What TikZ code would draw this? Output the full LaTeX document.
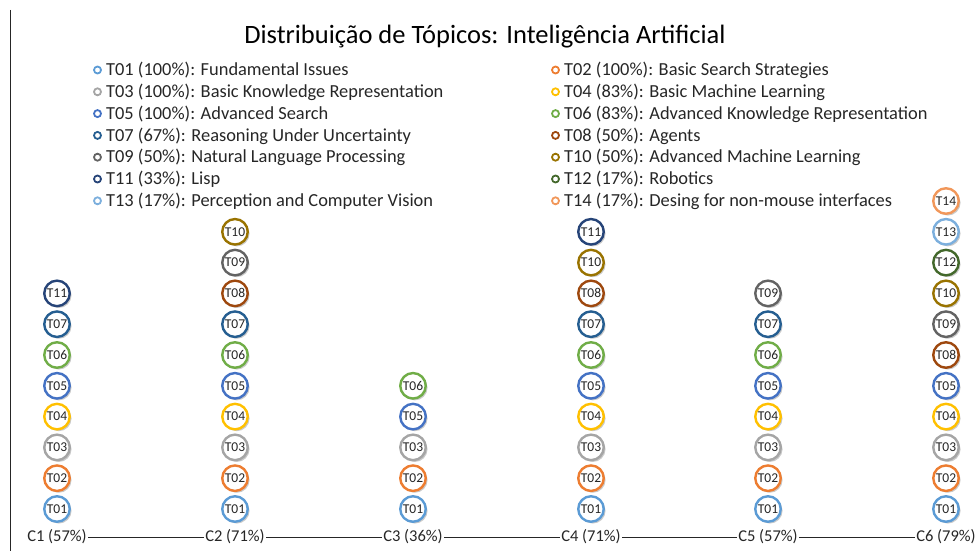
\documentclass[tikz,border=0pt]{standalone}
\usepackage{fontspec}
\setmainfont{Carlito}
\usetikzlibrary{shadows}
\definecolor{t01}{HTML}{5B9BD5}
\definecolor{t02}{HTML}{ED7D31}
\definecolor{t03}{HTML}{A5A5A5}
\definecolor{t04}{HTML}{FFC000}
\definecolor{t05}{HTML}{4472C4}
\definecolor{t06}{HTML}{70AD47}
\definecolor{t07}{HTML}{255E91}
\definecolor{t08}{HTML}{9E480E}
\definecolor{t09}{HTML}{636363}
\definecolor{t10}{HTML}{997300}
\definecolor{t11}{HTML}{264478}
\definecolor{t12}{HTML}{43682B}
\definecolor{t13}{HTML}{7CAFDD}
\definecolor{t14}{HTML}{F1975A}
\tikzset{
  topic/.style={circle, draw=#1, line width=2.4pt, fill=white, minimum size=25.5pt, inner sep=0pt,
    font=\fontsize{13.5}{14}\selectfont, text=black!85,
    drop shadow={shadow xshift=1.8pt, shadow yshift=-1.8pt, opacity=0.35, fill=black!60}},
  legmark/.style={circle, draw=#1, line width=1.8pt, minimum size=7pt, inner sep=0pt},
  legtext/.style={anchor=west, inner sep=0pt, font=\fontsize{18.4}{20}\selectfont, text=black!85},
  collabel/.style={inner sep=1.5pt, font=\fontsize{16.5}{18}\selectfont, text=black!85},
  axisline/.style={draw=black!85, line width=0.8pt},
}
\begin{document}
\begin{tikzpicture}[x=1pt,y=-1pt]
\useasboundingbox (0,0) rectangle (979,551);
\draw[black!85, line width=1pt] (10.5,10) coordinate (vtop) -- (10.5,551) coordinate (vbot);
\node[font=\fontsize{26.5}{30}\selectfont] (title) at (485,37) {Distribuição de Tópicos: Inteligência Artificial};
% legend
\foreach \t/\txt [count=\k] in {
  01/{T01 (100\%): Fundamental Issues},
  03/{T03 (100\%): Basic Knowledge Representation},
  05/{T05 (100\%): Advanced Search},
  07/{T07 (67\%): Reasoning Under Uncertainty},
  09/{T09 (50\%): Natural Language Processing},
  11/{T11 (33\%): Lisp},
  13/{T13 (17\%): Perception and Computer Vision}} {
  \node[legmark=t\t] (lm\t) at (97.5,{70+(\k-1)*21.8}) {};
  \node[legtext] (lt\t) at (106,{70.5+(\k-1)*21.8}) {\txt};
}
\foreach \t/\txt [count=\k] in {
  02/{T02 (100\%): Basic Search Strategies},
  04/{T04 (83\%): Basic Machine Learning},
  06/{T06 (83\%): Advanced Knowledge Representation},
  08/{T08 (50\%): Agents},
  10/{T10 (50\%): Advanced Machine Learning},
  12/{T12 (17\%): Robotics},
  14/{T14 (17\%): Desing for non-mouse interfaces}} {
  \node[legmark=t\t] (lm\t) at (555.5,{70+(\k-1)*21.8}) {};
  \node[legtext] (lt\t) at (564,{70.5+(\k-1)*21.8}) {\txt};
}
% columns
\foreach \c/\x/\lst in {
  1/57/{01,02,03,04,05,06,07,11},
  2/235/{01,02,03,04,05,06,07,08,09,10},
  3/413/{01,02,03,05,06},
  4/591/{01,02,03,04,05,06,07,08,10,11},
  5/768/{01,02,03,04,05,06,07,09},
  6/946/{01,02,03,04,05,08,09,10,12,13,14}} {
  \foreach \t [count=\r] in \lst {
    \node[topic=t\t] (c\c t\t) at (\x,{509-(\r-1)*30.8}) {T\t};
  }
}
% axis labels
\node[collabel] (l1) at (57,537) {C1 (57\%)};
\node[collabel] (l2) at (235,537) {C2 (71\%)};
\node[collabel] (l3) at (413,537) {C3 (36\%)};
\node[collabel] (l4) at (591,537) {C4 (71\%)};
\node[collabel] (l5) at (768,537) {C5 (57\%)};
\node[collabel] (l6) at (946,537) {C6 (79\%)};
\foreach \a/\b in {1/2,2/3,3/4,4/5,5/6} {
  \draw[axisline] (l\a.east) -- (l\b.west);
}
\end{tikzpicture}
\end{document}
